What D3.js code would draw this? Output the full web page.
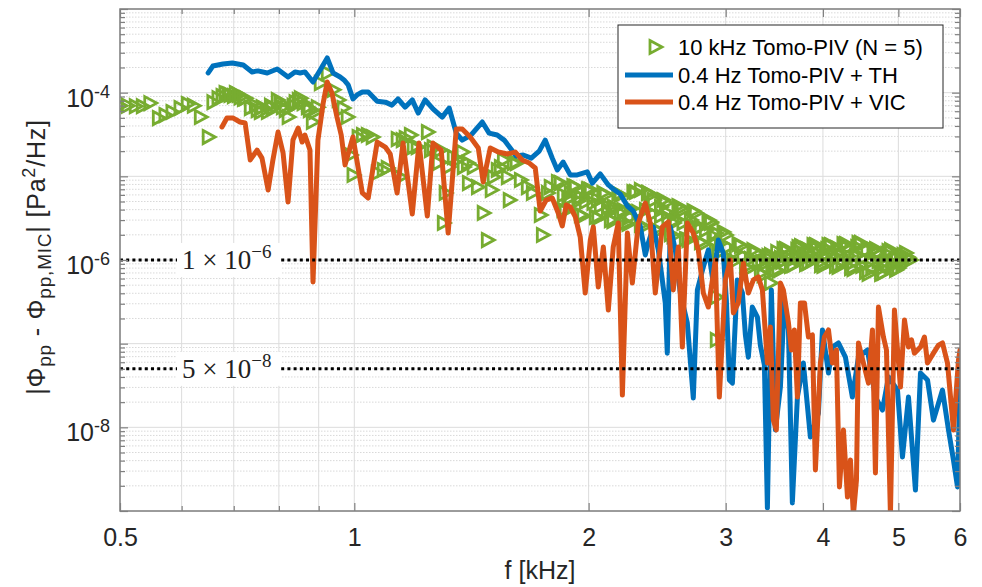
<!DOCTYPE html>
<html><head><meta charset="utf-8">
<script src="https://cdn.jsdelivr.net/npm/d3@7"></script>
<style>body{margin:0;background:#fff}svg text{font-family:"Liberation Sans",Arial,Helvetica,sans-serif}</style>
</head><body><svg id="c" width="982" height="587"></svg>
<script>
// ---------- data ----------
const pivF=[0.500,0.511,0.523,0.534,0.546,0.560,0.571,0.583,0.597,0.610,0.621,0.634,0.649,0.658,0.668,0.676,0.682,0.688,0.692,0.699,0.703,0.709,0.713,0.720,0.724,0.735,0.746,0.750,0.757,0.761,0.773,0.780,0.784,0.796,0.803,0.808,0.815,0.822,0.834,0.839,0.847,0.852,0.859,0.870,0.875,0.883,0.890,0.896,0.904,0.923,0.939,0.953,0.967,0.979,0.988,0.996,1.011,1.024,1.039,1.054,1.070,1.089,1.102,1.135,1.145,1.152,1.162,1.180,1.190,1.204,1.241,1.252,1.262,1.289,1.282,1.301,1.308,1.320,1.340,1.356,1.376,1.380,1.397,1.401,1.421,1.439,1.464,1.482,1.508,1.499,1.526,1.540,1.554,1.572,1.581,1.600,1.614,1.634,1.668,1.693,1.733,1.744,1.770,1.785,1.823,1.855,1.894,1.951,1.992,2.052,2.114,2.151,2.196,2.262,2.330,2.379,2.422,2.473,2.524,2.569,2.639,2.702,2.783,2.867,2.910,2.917,2.917,3.424,
1.839,1.866,1.894,1.923,1.951,1.980,2.010,2.040,2.070,2.101,2.132,2.164,2.196,2.229,2.262,2.296,2.330,2.365,2.400,2.436,2.473,2.509,2.547,2.585,2.623,2.662,2.702,2.742,2.783,2.825,2.867,2.910,2.953,2.997,3.042,3.087,3.133,3.180,3.227,3.275,3.324,3.374,3.424,3.475,3.527,3.580,3.633,3.687,3.742,3.798,3.854,3.912,3.970,4.029,4.089,4.150,4.212,4.275,4.339,4.403,4.469,4.536,4.603,4.672,4.742,4.812,4.884,4.957,5.031,5.106,5.182,
1.853,1.880,1.908,1.937,1.966,1.995,2.025,2.055,2.085,2.117,2.148,2.180,2.212,2.246,2.279,2.313,2.347,2.383,2.418,2.454,2.491,2.528,2.566,2.604,2.643,2.682,2.722,2.762,2.804,2.846,2.888,2.931,2.975,3.019,3.064,3.110,3.156,3.203,3.251,3.300,3.349,3.399,3.449,3.501,3.553,3.607,3.660,3.714,3.770,3.826,3.883,3.941,3.999,4.059,4.119,4.181,4.243,4.307,4.371,4.436,4.502,4.570,4.637,4.707,4.777,4.848,4.920,4.994,5.068,5.144,
3.336,3.386,3.437,3.488,3.540,3.593,3.646,3.701,3.756,3.812,3.868,3.926,3.985,4.044,4.104,4.165,4.228,4.291,4.355,4.419,4.486,4.553,4.620,4.689,4.760,4.830,4.902,4.975,5.050,5.125];
const pivV=[7.0e-5,7.0e-5,6.9e-5,6.9e-5,7.5e-5,4.97e-5,5.4e-5,5.87e-5,6.55e-5,7.3e-5,7.0e-5,5.12e-5,2.95e-5,7.7e-5,8.6e-5,9.1e-5,9.9e-5,9.6e-5,9.4e-5,9.1e-5,9.9e-5,9.4e-5,8.8e-5,8.4e-5,8.6e-5,6.55e-5,7.0e-5,6.2e-5,5.87e-5,6.7e-5,5.87e-5,7.0e-5,6.55e-5,8.2e-5,7.5e-5,6.7e-5,6.2e-5,5.12e-5,7.0e-5,7.7e-5,8.2e-5,8.6e-5,7.5e-5,6.7e-5,6.2e-5,4.46e-5,5.87e-5,6.7e-5,1.3e-4,1.72e-4,1.08e-4,8.2e-5,6.55e-5,5.12e-5,1.8e-5,1.04e-5,2.95e-5,3.12e-5,3.12e-5,2.95e-5,1.1e-5,1.19e-5,1.26e-5,2.79e-5,9.8e-6,2.71e-5,2.87e-5,3.12e-5,2.24e-5,2.24e-5,3.38e-5,2.06e-5,2.24e-5,2.06e-5,1.44e-5,2.77e-6,6.33e-6,1.29e-5,1.7e-5,1.57e-5,1.95e-5,1.29e-5,1.44e-5,8.3e-6,1.29e-5,7.45e-6,3.65e-6,1.73e-6,9.8e-6,6.87e-6,1.19e-5,1.29e-5,1.57e-5,9.8e-6,5.21e-6,1.44e-5,1.44e-5,9.04e-6,7.45e-6,6.33e-6,3.45e-6,1.99e-6,6.33e-6,7.45e-6,8.56e-6,5.98e-6,6.33e-6,5.66e-6,6.87e-6,5.21e-6,3.65e-6,4.3e-6,3.65e-6,3.27e-6,6.87e-6,6.33e-6,5.21e-6,4.3e-6,3.65e-6,2.77e-6,3.96e-6,3.0e-6,2.48e-6,2.77e-6,2.1e-6,3.6e-7,1.11e-7,5.3e-7,
8.3e-6,3.85e-6,5.51e-6,7.45e-6,3.45e-6,4.94e-6,6.87e-6,3.27e-6,4.42e-6,5.98e-6,3.0e-6,4.18e-6,5.98e-6,2.77e-6,4.07e-6,6.5e-6,2.62e-6,3.96e-6,5.98e-6,2.34e-6,3.36e-6,4.8e-6,2.04e-6,3.0e-6,4.18e-6,1.78e-6,2.62e-6,3.65e-6,1.64e-6,2.28e-6,2.85e-6,1.32e-6,1.6e-6,1.99e-6,1.03e-6,1.25e-6,1.47e-6,8.25e-7,1.03e-6,1.21e-6,7.0e-7,9.2e-7,1.15e-6,7.6e-7,1.06e-6,1.35e-6,8.5e-7,1.15e-6,1.47e-6,8.95e-7,1.18e-6,1.51e-6,8.7e-7,1.15e-6,1.51e-6,8.5e-7,1.15e-6,1.55e-6,8.0e-7,1.12e-6,1.6e-6,7.2e-7,9.5e-7,1.35e-6,6.8e-7,9.5e-7,1.32e-6,7.6e-7,1.0e-6,1.21e-6,1.0e-6,
3.96e-6,5.35e-6,7.65e-6,5.08e-6,3.36e-6,7.06e-6,4.8e-6,3.18e-6,6.33e-6,4.3e-6,2.92e-6,6.15e-6,3.96e-6,2.7e-6,6.5e-6,3.75e-6,2.48e-6,6.33e-6,3.55e-6,2.22e-6,5.21e-6,3.18e-6,1.93e-6,4.42e-6,2.77e-6,1.73e-6,3.85e-6,2.41e-6,1.55e-6,3.0e-6,1.93e-6,1.21e-6,2.16e-6,1.43e-6,9.5e-7,1.55e-6,1.12e-6,7.8e-7,1.32e-6,9.5e-7,6.6e-7,1.12e-6,8.7e-7,7.4e-7,1.35e-6,1.06e-6,8.7e-7,1.43e-6,1.12e-6,9.2e-7,1.51e-6,1.18e-6,8.5e-7,1.51e-6,1.15e-6,8.25e-7,1.55e-6,1.12e-6,7.8e-7,1.6e-6,1.06e-6,6.8e-7,1.32e-6,9.7e-7,7.0e-7,1.28e-6,9.2e-7,8.0e-7,1.15e-6,1.06e-6,
9.5e-7,1.06e-6,8.7e-7,1.25e-6,9.5e-7,1.25e-6,1.0e-6,1.32e-6,1.0e-6,1.35e-6,1.0e-6,1.35e-6,9.7e-7,1.35e-6,9.7e-7,1.39e-6,9.5e-7,1.39e-6,9.2e-7,1.43e-6,8.5e-7,1.32e-6,8.0e-7,1.21e-6,8.0e-7,1.18e-6,8.5e-7,1.12e-6,8.95e-7,1.09e-6];

const thF=[0.649,0.658,0.678,0.697,0.720,0.739,0.752,0.773,0.796,0.822,0.839,0.852,0.864,0.885,0.904,0.923,0.939,0.959,0.970,0.982,0.996,1.008,1.024,1.042,1.070,1.096,1.118,1.138,1.162,1.187,1.208,1.233,1.262,1.297,1.324,1.352,1.376,1.413,1.460,1.490,1.526,1.558,1.586,1.614,1.648,1.688,1.728,1.759,1.796,1.823,1.855,1.894,1.934,1.992,2.022,2.070,2.120,2.151,2.196,2.243,2.282,2.330,2.365,2.386,2.422,2.458,2.487,2.509,2.524,2.547,2.585,2.623,2.678,2.726,2.759,2.808,2.850,2.892,2.935,2.979,3.006,3.033,3.060,3.105,3.152,3.180,3.208,3.246,3.295,3.324,3.364,3.394,3.434,3.475,3.527,3.569,3.612,3.654,3.709,3.775,3.854,3.947,3.994,4.066,4.114,4.187,4.275,4.364,4.443,4.563,4.672,4.770,4.856,4.987,5.061,5.152,5.259,5.338,5.450,5.547,5.697,5.799,5.885,5.956,6.000];
const thV=[1.72e-4,2.08e-4,2.2e-4,2.26e-4,2.14e-4,1.77e-4,1.82e-4,1.72e-4,1.92e-4,1.54e-4,1.77e-4,1.72e-4,1.77e-4,1.34e-4,1.87e-4,2.6e-4,1.72e-4,1.54e-4,1.42e-4,1.24e-4,8.4e-5,9.4e-5,1.02e-4,1.02e-4,7.9e-5,7.7e-5,7.1e-5,8.4e-5,6.7e-5,8.2e-5,5.7e-5,8.2e-5,6.4e-5,5.1e-5,6.55e-5,3.29e-5,2.71e-5,3.12e-5,4.46e-5,3.29e-5,3.12e-5,2.71e-5,2.18e-5,1.75e-5,1.8e-5,1.65e-5,2.0e-5,2.71e-5,1.65e-5,1.19e-5,1.48e-5,1.04e-5,1.04e-5,1.13e-5,8.3e-6,1.07e-5,7.9e-6,7.06e-6,6.15e-6,4.42e-6,3.85e-6,2.55e-6,1.15e-6,1.6e-6,2.48e-6,1.32e-6,5.78e-7,3.07e-7,7.7e-8,2.48e-6,1.32e-6,4.03e-7,1.77e-7,2.24e-8,4.39e-7,8.25e-7,1.32e-6,5.3e-7,1.73e-6,1.21e-6,3.33e-7,3.68e-8,3.38e-8,5.78e-7,4.03e-7,1.27e-7,6.9e-8,2.74e-7,2.08e-7,9.6e-8,5.55e-8,1.09e-9,4.39e-7,9.3e-9,3.03e-8,3.33e-7,1.46e-7,1.25e-9,2.3e-8,5.87e-8,7.67e-9,1.48e-8,1.46e-7,4.46e-8,9.1e-8,1.02e-7,6.9e-8,2.3e-8,6.9e-8,8.4e-8,2.3e-8,1.61e-8,4.0e-8,2.79e-8,4.42e-9,2.3e-8,1.78e-9,4.46e-8,3.68e-8,1.22e-8,2.79e-8,9.3e-9,4.07e-9,1.94e-9,3.68e-8];

const vicF=[0.676,0.686,0.699,0.713,0.724,0.735,0.750,0.761,0.775,0.786,0.798,0.810,0.822,0.834,0.847,0.857,0.864,0.877,0.885,0.898,0.912,0.923,0.936,0.950,0.962,0.973,0.996,1.024,1.042,1.070,1.096,1.112,1.135,1.155,1.187,1.211,1.241,1.262,1.293,1.320,1.352,1.376,1.409,1.443,1.464,1.495,1.531,1.572,1.610,1.643,1.678,1.708,1.733,1.764,1.796,1.828,1.850,1.872,1.894,1.923,1.951,1.980,2.010,2.028,2.058,2.089,2.120,2.151,2.183,2.210,2.243,2.276,2.317,2.365,2.400,2.436,2.487,2.532,2.569,2.608,2.639,2.678,2.726,2.767,2.808,2.850,2.910,2.944,2.997,3.042,3.069,3.114,3.161,3.208,3.256,3.304,3.344,3.394,3.424,3.454,3.485,3.527,3.558,3.612,3.644,3.676,3.709,3.742,3.787,3.832,3.877,3.912,3.970,4.017,4.066,4.114,4.163,4.200,4.250,4.301,4.339,4.377,4.417,4.443,4.509,4.577,4.631,4.672,4.714,4.784,4.827,4.884,4.942,5.031,5.091,5.152,5.198,5.243,5.338,5.401,5.450,5.547,5.630,5.697,5.782,5.885,5.973,6.000];
const vicV=[3.89e-5,4.97e-5,4.97e-5,4.46e-5,4.34e-5,1.57e-5,2.06e-5,1.65e-5,6.87e-6,1.57e-5,3.38e-5,1.9e-5,4.94e-6,2.71e-5,3.78e-5,2.57e-5,3.12e-5,2.06e-5,5.46e-7,2.71e-5,7.5e-5,1.34e-4,9.9e-5,5.12e-5,3.12e-5,1.37e-5,2.95e-5,6.33e-6,5.51e-6,2.57e-5,2.24e-5,1.85e-5,6.33e-6,2.5e-5,3.55e-6,2.5e-5,3.36e-6,2.5e-5,2.06e-5,2.1e-6,3.68e-5,3.68e-5,2.95e-5,2.18e-5,8.56e-6,2.18e-5,1.95e-5,1.85e-5,1.95e-5,1.57e-5,1.44e-5,1.26e-5,3.85e-6,5.21e-6,5.51e-6,3.65e-6,2.55e-6,4.54e-6,4.3e-6,3.27e-6,1.88e-6,4.03e-7,1.73e-6,2.48e-6,4.76e-7,1.43e-6,2.53e-7,1.43e-6,2.77e-6,2.43e-8,2.1e-6,5.3e-7,2.77e-6,4.8e-6,2.77e-6,4.03e-7,2.48e-6,2.85e-6,4.39e-7,1.43e-6,9.1e-8,2.77e-6,2.1e-6,1.32e-6,4.03e-7,2.74e-7,1.0e-6,2.3e-8,5.78e-7,1.0e-6,2.33e-7,3.07e-7,9.2e-7,4.03e-7,5.78e-7,6.27e-7,4.39e-7,5.87e-8,1.58e-7,1.22e-8,9.3e-9,5.3e-7,4.39e-7,1.77e-7,8.4e-8,1.46e-7,2.3e-8,3.07e-7,3.07e-7,1.2e-7,1.27e-7,3.09e-9,5.87e-8,1.2e-7,1.46e-7,5.87e-8,8.4e-8,1.94e-9,9.3e-9,1.47e-9,4.07e-9,9e-10,2.35e-9,1.02e-7,5.87e-8,3.38e-8,1.46e-7,2.85e-9,2.74e-7,1.2e-7,8.4e-8,9e-10,2.53e-7,3.03e-8,1.92e-7,9.1e-8,1.11e-7,7.7e-8,9.1e-8,1.2e-7,5.87e-8,7.7e-8,9.6e-8,1.02e-7,5.87e-8,9.3e-9,6.35e-8,8.4e-8];

const xMajor=[0.5,1,2,3,4,5,6];
const xMajorLabels=["0.5","1","2","3","4","5","6"];
const xMinor=[0.6,0.7,0.8,0.9];
const yDecades=[1e-9,1e-8,1e-7,1e-6,1e-5,1e-4,1e-3];
const yLabelVals=[1e-4,1e-6,1e-8];
const yLabelExps=["-4","-6","-8"];
const minorMult=[2,3,4,5,6,7,8,9];
const refLevels=[1e-6,5e-8];
const refMant=["1 × 10","5 × 10"];
const refExp=["−6","−8"];
const legendLabels=["10 kHz Tomo-PIV (N = 5)","0.4 Hz Tomo-PIV + TH","0.4 Hz Tomo-PIV + VIC"];
const colors=["#77AC30","#0072BD","#D95319"];

// ---------- layout ----------
const L=120,R=960,T=9,B=511;
const svg=d3.select("#c");
const x=d3.scaleLog().domain([0.5,6]).range([L,R]);
const y=d3.scaleLog().domain([1e-9,1e-3]).range([B,T]);
const txt="#262626", axc="#808080";

const yMinor=[];
yDecades.slice(0,-1).forEach(d=>minorMult.forEach(m=>yMinor.push(d*m)));

// grid
const grid=svg.append("g");
grid.selectAll(".ym").data(yMinor).join("line")
  .attr("x1",L).attr("x2",R).attr("y1",d=>y(d)).attr("y2",d=>y(d))
  .attr("stroke","#d9d9d9").attr("stroke-width",1).attr("stroke-dasharray","1.5,1.5");
grid.selectAll(".yM").data(yDecades).join("line")
  .attr("x1",L).attr("x2",R).attr("y1",d=>y(d)).attr("y2",d=>y(d))
  .attr("stroke","#dcdcdc").attr("stroke-width",1);
grid.selectAll(".xg").data(xMajor.concat(xMinor)).join("line")
  .attr("x1",d=>x(d)).attr("x2",d=>x(d)).attr("y1",T).attr("y2",B)
  .attr("stroke","#dcdcdc").attr("stroke-width",1);

// clip
svg.append("clipPath").attr("id","pc").append("rect").attr("x",L).attr("y",T).attr("width",R-L).attr("height",B-T);
const plot=svg.append("g").attr("clip-path","url(#pc)");

// green markers
const tri="M-5,-6.5L7,0L-5,6.5Z";
plot.append("g").selectAll("path").data(pivF.map((f,i)=>[f,pivV[i]])).join("path")
  .attr("d",tri).attr("transform",d=>`translate(${x(d[0])},${y(d[1])})`)
  .attr("fill","none").attr("stroke",colors[0]).attr("stroke-width",2.8).attr("stroke-linejoin","miter");

const line=d3.line().x(d=>x(d[0])).y(d=>y(d[1]));
plot.append("path").datum(thF.map((f,i)=>[f,thV[i]])).attr("d",line)
  .attr("fill","none").attr("stroke",colors[1]).attr("stroke-width",5).attr("stroke-linejoin","round").attr("stroke-linecap","round");
plot.append("path").datum(vicF.map((f,i)=>[f,vicV[i]])).attr("d",line)
  .attr("fill","none").attr("stroke",colors[2]).attr("stroke-width",5).attr("stroke-linejoin","round").attr("stroke-linecap","round");

// reference lines
refLevels.forEach((v,i)=>{
  svg.append("line").attr("x1",L).attr("x2",R).attr("y1",y(v)).attr("y2",y(v))
    .attr("stroke","#000").attr("stroke-width",3).attr("stroke-dasharray","3,3.2");
  const g=svg.append("g");
  g.append("rect").attr("x",177).attr("y",y(v)-17).attr("width",104).attr("height",34).attr("fill","#fff");
  const t=g.append("text").attr("x",182).attr("y",y(v)+9)
    .style("font-family","'Liberation Serif','Times New Roman',serif").attr("font-size",27).attr("fill","#222");
  t.append("tspan").text(refMant[i]);
  t.append("tspan").attr("dy",-11).attr("font-size",19).text(refExp[i]);
});

// axes
const ax=svg.append("g");
function styleAxis(g){g.select(".domain").remove();g.selectAll("line").attr("stroke",axc).attr("stroke-width",1.2);g.selectAll("text").attr("fill",txt).attr("font-size",25).style("font-family","'Liberation Sans',Arial,sans-serif");}
ax.append("g").attr("transform",`translate(0,${B})`)
  .call(d3.axisBottom(x).tickValues(xMajor).tickFormat((d,i)=>xMajorLabels[i]).tickSizeInner(-8).tickSizeOuter(0).tickPadding(17)).call(styleAxis);
ax.append("g").attr("transform",`translate(0,${B})`)
  .call(d3.axisBottom(x).tickValues(xMinor).tickFormat("").tickSizeInner(-5).tickSizeOuter(0)).call(styleAxis);
ax.append("g").attr("transform",`translate(0,${T})`)
  .call(d3.axisTop(x).tickValues(xMajor).tickFormat("").tickSizeInner(-8).tickSizeOuter(0)).call(styleAxis);
ax.append("g").attr("transform",`translate(0,${T})`)
  .call(d3.axisTop(x).tickValues(xMinor).tickFormat("").tickSizeInner(-5).tickSizeOuter(0)).call(styleAxis);
ax.append("g").attr("transform",`translate(${L},0)`)
  .call(d3.axisLeft(y).tickValues(yDecades).tickFormat("").tickSizeInner(-8).tickSizeOuter(0)).call(styleAxis);
ax.append("g").attr("transform",`translate(${L},0)`)
  .call(d3.axisLeft(y).tickValues(yMinor).tickFormat("").tickSizeInner(-5).tickSizeOuter(0)).call(styleAxis);
ax.append("g").attr("transform",`translate(${R},0)`)
  .call(d3.axisRight(y).tickValues(yDecades).tickFormat("").tickSizeInner(-8).tickSizeOuter(0)).call(styleAxis);
ax.append("g").attr("transform",`translate(${R},0)`)
  .call(d3.axisRight(y).tickValues(yMinor).tickFormat("").tickSizeInner(-5).tickSizeOuter(0)).call(styleAxis);
ax.append("rect").attr("x",L).attr("y",T).attr("width",R-L).attr("height",B-T)
  .attr("fill","none").attr("stroke",axc).attr("stroke-width",1.5);

// y tick labels
yLabelVals.forEach((v,i)=>{
  const t=svg.append("text").attr("x",110).attr("y",y(v)+14).attr("text-anchor","end").attr("fill",txt).attr("font-size",25);
  t.append("tspan").text("10");
  t.append("tspan").attr("dy",-9).attr("font-size",18).text(yLabelExps[i]);
});

// axis labels
svg.append("text").attr("x",(L+R)/2).attr("y",579).attr("text-anchor","middle").attr("fill",txt).attr("font-size",25).text("f [kHz]");
const yl=svg.append("text").attr("transform",`translate(45,257) rotate(-90)`).attr("text-anchor","middle").attr("fill",txt).attr("font-size",25).attr("letter-spacing",0.8);
yl.append("tspan").text("|Φ");
yl.append("tspan").attr("font-size",19).attr("dy",6).text("pp");
yl.append("tspan").attr("dy",-6).text(" - Φ");
yl.append("tspan").attr("font-size",19).attr("dy",6).text("pp,MIC");
yl.append("tspan").attr("dy",-6).text("| [Pa");
yl.append("tspan").attr("font-size",18).attr("dy",-10).text("2");
yl.append("tspan").attr("dy",10).text("/Hz]");

// legend
const lg=svg.append("g");
lg.append("rect").attr("x",618).attr("y",25).attr("width",325).attr("height",103).attr("fill","#fff").attr("stroke","#262626").attr("stroke-width",1);
const rows=[47,75,102];
lg.append("path").attr("d",tri).attr("transform",`translate(655,${rows[0]})`).attr("fill","none").attr("stroke",colors[0]).attr("stroke-width",2.8);
[1,2].forEach(i=>lg.append("line").attr("x1",625).attr("x2",673).attr("y1",rows[i]).attr("y2",rows[i]).attr("stroke",colors[i]).attr("stroke-width",5));
legendLabels.forEach((s,i)=>lg.append("text").attr("x",678).attr("y",rows[i]+8).attr("fill","#000").attr("font-size",22).text(s));
</script></body></html>
